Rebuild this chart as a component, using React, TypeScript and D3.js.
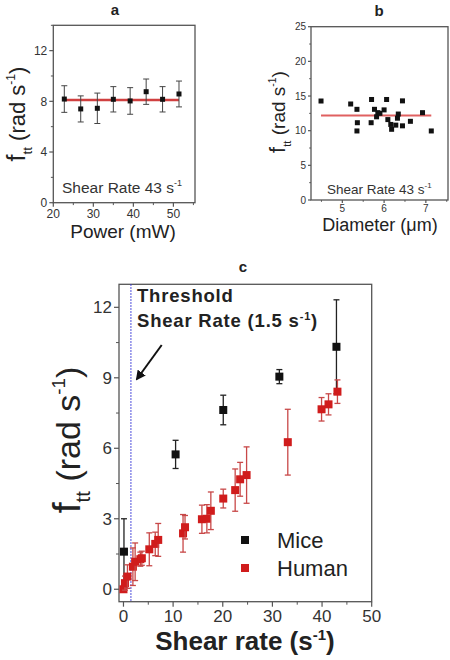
import React from "react";
import * as d3 from "d3";

const aPower = [22.75, 26.85, 31, 35, 39.2, 43.2, 47.3, 51.4];
const aRate = [8.18, 7.4, 7.45, 8.16, 8.03, 8.76, 8.16, 8.58];
const aErr = [1.05, 1.03, 1.2, 1.0, 1.05, 1.0, 1.0, 1.02];
const aFit = 8.1;
const aXTicks = [20, 30, 40, 50];
const aYTicks = [0, 4, 8, 12];

const bDiam = [4.49, 5.2, 5.35, 5.36, 5.35, 5.7, 5.69, 5.77, 5.85, 5.82, 5.9, 6.0, 6.06, 6.09, 6.16, 6.18, 6.28, 6.32, 6.34, 6.44, 6.44, 6.63, 6.92, 7.13];
const bRate = [14.28, 13.85, 13.08, 11.15, 9.96, 14.5, 11.15, 13.08, 12.6, 12.0, 12.5, 13.0, 14.5, 11.6, 10.9, 10.2, 10.8, 11.8, 12.4, 14.3, 10.7, 11.35, 12.6, 9.96];
const bFit = 12.2;
const bXTicks = [5, 6, 7];
const bYTicks = [0, 5, 10, 15, 20, 25];

const miceX = [0.1, 10.5, 20.1, 31.4, 42.9];
const miceY = [1.6, 5.74, 7.63, 9.05, 10.32];
const miceErr = [1.4, 0.6, 0.63, 0.3, 2.0];
const humanX = [0, 0.3, 0.8, 1.9, 2.35, 3.4, 3.7, 5.2, 6.4, 7.0, 12, 12.4, 15.8, 16.8, 17.6, 20.1, 22.5, 23.5, 24.8, 33.1, 39.9, 41.3, 43.1];
const humanY = [0, 0.26, 0.54, 0.96, 1.17, 1.28, 1.32, 1.7, 1.93, 2.1, 2.38, 2.64, 2.98, 3.0, 3.34, 3.86, 4.22, 4.68, 4.86, 6.26, 7.66, 7.87, 8.41];
const humanErr = [0.1, 0.3, 0.5, 0.8, 0.8, 0.3, 0.3, 0.7, 0.5, 0.7, 0.8, 0.5, 0.6, 0.6, 0.8, 0.4, 0.9, 0.72, 1.2, 1.4, 0.5, 0.45, 0.5];
const cXTicks = [0, 10, 20, 30, 40, 50];
const cYTicks = [0, 3, 6, 9, 12];
const threshold = 1.5;

const FONT = "'Liberation Sans', Arial, sans-serif";
const AX = "#555";

function Axes({ x, y, xTicks, yTicks, xMinor, yMinor, tick, fs, fmtX, fmtY }: any) {
  const [x0, x1] = x.range();
  const [y0, y1] = y.range();
  return (
    <g>
      <rect x={x0} y={y1} width={x1 - x0} height={y0 - y1} fill="none" stroke={AX} strokeWidth={1.3} />
      {xTicks.map((t: number) => (
        <g key={"x" + t}>
          <line x1={x(t)} x2={x(t)} y1={y0} y2={y0 + tick} stroke={AX} strokeWidth={1.2} />
          <text x={x(t)} y={y0 + tick + fs * 0.9} fontSize={fs} textAnchor="middle" fill="#333">{fmtX ? fmtX(t) : t}</text>
        </g>
      ))}
      {xMinor.map((t: number) => (
        <line key={"xm" + t} x1={x(t)} x2={x(t)} y1={y0} y2={y0 + tick * 0.6} stroke={AX} strokeWidth={1} />
      ))}
      {yTicks.map((t: number) => (
        <g key={"y" + t}>
          <line x1={x0 - tick} x2={x0} y1={y(t)} y2={y(t)} stroke={AX} strokeWidth={1.2} />
          <text x={x0 - tick - 2} y={y(t) + fs * 0.36} fontSize={fs} textAnchor="end" fill="#333">{fmtY ? fmtY(t) : t}</text>
        </g>
      ))}
      {yMinor.map((t: number) => (
        <line key={"ym" + t} x1={x0 - tick * 0.6} x2={x0} y1={y(t)} y2={y(t)} stroke={AX} strokeWidth={1} />
      ))}
    </g>
  );
}

function YLabel({ cx, cy, fs }: any) {
  return (
    <text transform={`translate(${cx},${cy}) rotate(-90)`} textAnchor="middle" fontSize={fs} fill="#222">
      <tspan fontSize={fs * 1.15}>f</tspan>
      <tspan fontSize={fs * 0.6} dy={fs * 0.3}>tt</tspan>
      <tspan dy={-fs * 0.3}> (rad s</tspan>
      <tspan fontSize={fs * 0.55} dy={-fs * 0.45}>-1</tspan>
      <tspan dy={fs * 0.45}>)</tspan>
    </text>
  );
}

function ErrSq({ cx, cy, top, bot, size, cap, color, barColor, sw }: any) {
  return (
    <g>
      <line x1={cx} x2={cx} y1={top} y2={bot} stroke={barColor} strokeWidth={sw} />
      <line x1={cx - cap} x2={cx + cap} y1={top} y2={top} stroke={barColor} strokeWidth={sw} />
      <line x1={cx - cap} x2={cx + cap} y1={bot} y2={bot} stroke={barColor} strokeWidth={sw} />
      <rect x={cx - size / 2} y={cy - size / 2} width={size} height={size} fill={color} />
    </g>
  );
}

export default function App() {
  // Panel a
  const ax = d3.scaleLinear().domain([20, 55.4]).range([53.3, 195]);
  const ay = d3.scaleLinear().domain([0, 14]).range([202.7, 25.3]);
  // Panel b
  const bx = d3.scaleLinear().domain([4.25, 7.53]).range([311, 448]);
  const by = d3.scaleLinear().domain([0, 25]).range([200, 26.7]);
  // Panel c
  const cx = d3.scaleLinear().domain([-0.9, 50]).range([119, 371.7]);
  const cy = d3.scaleLinear().domain([-0.53, 12.98]).range([601.7, 284.3]);

  return (
    <svg width={450} height={660} style={{ position: "absolute", left: 0, top: 0, background: "#fff" }} fontFamily={FONT}>
      {/* Panel a */}
      <text x={115} y={15} fontSize={15} fontWeight="bold" textAnchor="middle" fill="#222">a</text>
      <Axes x={ax} y={ay} xTicks={aXTicks} yTicks={aYTicks} xMinor={[25, 35, 45, 55]} yMinor={[2, 6, 10, 14]} tick={4} fs={12} />
      <line x1={ax(aPower[0])} x2={ax(aPower[aPower.length - 1])} y1={ay(aFit)} y2={ay(aFit)} stroke="#d04040" strokeWidth={2.5} />
      {aPower.map((p, i) => (
        <ErrSq key={i} cx={ax(p)} cy={ay(aRate[i])} top={ay(aRate[i] + aErr[i])} bot={ay(aRate[i] - aErr[i])} size={5} cap={3} color="#111" barColor="#444" sw={1} />
      ))}
      <text x={62} y={193} fontSize={15.5} fill="#333">Shear Rate 43 s<tspan fontSize={9} dy={-7}>-1</tspan></text>
      <text x={123} y={238} fontSize={19} textAnchor="middle" fill="#222">Power (mW)</text>
      <YLabel cx={25} cy={114} fs={22} />

      {/* Panel b */}
      <text x={379} y={16} fontSize={15} fontWeight="bold" textAnchor="middle" fill="#222">b</text>
      <Axes x={bx} y={by} xTicks={bXTicks} yTicks={bYTicks} xMinor={[4.5, 5.5, 6.5, 7.5]} yMinor={[2.5, 7.5, 12.5, 17.5, 22.5]} tick={3} fs={10} />
      <line x1={bx(bDiam[0])} x2={bx(bDiam[bDiam.length - 1])} y1={by(bFit)} y2={by(bFit)} stroke="#e06060" strokeWidth={2} />
      {bDiam.map((d, i) => (
        <rect key={i} x={bx(d) - 2.5} y={by(bRate[i]) - 2.5} width={5} height={5} fill="#111" />
      ))}
      <text x={327} y={194} fontSize={13.5} fill="#333">Shear Rate 43 s<tspan fontSize={8} dy={-6}>-1</tspan></text>
      <text x={380} y={231} fontSize={18} textAnchor="middle" fill="#222">Diameter (μm)</text>
      <YLabel cx={285} cy={112} fs={19} />

      {/* Panel c */}
      <text x={243} y={272} fontSize={15} fontWeight="bold" textAnchor="middle" fill="#222">c</text>
      <Axes x={cx} y={cy} xTicks={cXTicks} yTicks={cYTicks} xMinor={[5, 15, 25, 35, 45]} yMinor={[1.5, 4.5, 7.5, 10.5]} tick={5} fs={17} />
      <line x1={cx(threshold)} x2={cx(threshold)} y1={cy.range()[1]} y2={cy.range()[0]} stroke="#3a3ad8" strokeWidth={1.2} strokeDasharray="1.5,1.5" />
      {miceX.map((m, i) => (
        <ErrSq key={"m" + i} cx={cx(m)} cy={cy(miceY[i])} top={cy(miceY[i] + miceErr[i])} bot={cy(miceY[i] - miceErr[i])} size={8} cap={3} color="#111" barColor="#222" sw={1.3} />
      ))}
      {humanX.map((h, i) => (
        <ErrSq key={"h" + i} cx={cx(h)} cy={cy(humanY[i])} top={cy(humanY[i] + humanErr[i])} bot={cy(humanY[i] - humanErr[i])} size={8} cap={3} color="#d01c1c" barColor="#c84848" sw={1.3} />
      ))}
      <text x={137} y={302} fontSize={18.5} fontWeight="bold" letterSpacing={0.8} fill="#222">Threshold</text>
      <text x={137} y={327} fontSize={18.5} fontWeight="bold" letterSpacing={0.8} fill="#222">Shear Rate (1.5 s<tspan fontSize={11} dy={-7}>-1</tspan><tspan dy={7}>)</tspan></text>
      <defs>
        <marker id="ah" viewBox="0 0 10 10" refX={8} refY={5} markerWidth={5} markerHeight={5} orient="auto">
          <path d="M0,0 L10,5 L0,10 z" fill="#111" />
        </marker>
      </defs>
      <line x1={161.7} y1={345} x2={137} y2={379} stroke="#111" strokeWidth={2} markerEnd="url(#ah)" />
      <rect x={241} y={536} width={8} height={8} fill="#111" />
      <text x={277} y={548} fontSize={22} fill="#222">Mice</text>
      <rect x={241} y={564} width={8} height={8} fill="#d01c1c" />
      <text x={277} y={576} fontSize={22} fill="#222">Human</text>
      <text x={245} y={650} fontSize={26} fontWeight="bold" textAnchor="middle" fill="#222">Shear rate (s<tspan fontSize={15} dy={-10}>-1</tspan><tspan dy={10}>)</tspan></text>
      <YLabel cx={80} cy={440} fs={34} />
    </svg>
  );
}
